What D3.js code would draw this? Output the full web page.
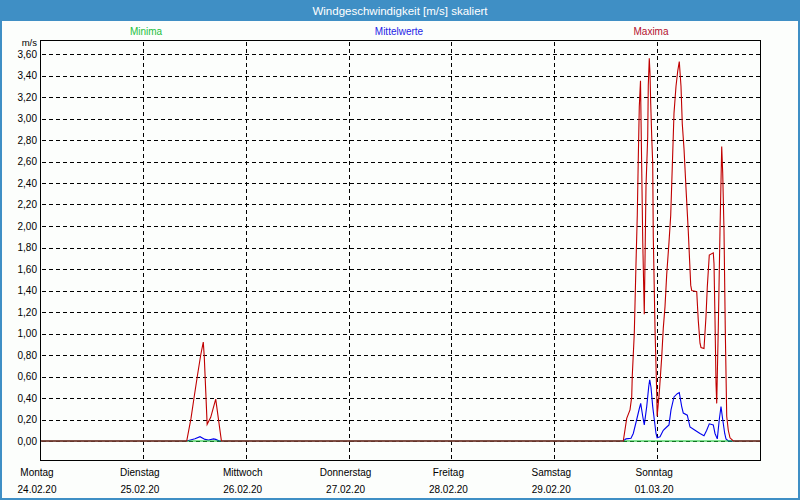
<!DOCTYPE html>
<html>
<head>
<meta charset="utf-8">
<script src="https://cdn.jsdelivr.net/npm/d3@7"></script>
<style>
html,body{margin:0;padding:0;background:#fcfefc;}
svg{display:block;font-family:"Liberation Sans",Arial,sans-serif;}
</style>
</head>
<body>
<svg id="chart" width="800" height="500"></svg>
<script>
// ---------- data ----------
const titleText = "Windgeschwindigkeit [m/s] skaliert";
const unitLabel = "m/s";
const seriesNames = ["Minima", "Mittelwerte", "Maxima"];
const dayNames = ["Montag", "Dienstag", "Mittwoch", "Donnerstag", "Freitag", "Samstag", "Sonntag"];
const dayDates = ["24.02.20", "25.02.20", "26.02.20", "27.02.20", "28.02.20", "29.02.20", "01.03.20"];
const dayStarts = ["2020-02-24 00:00","2020-02-25 00:00","2020-02-26 00:00","2020-02-27 00:00","2020-02-28 00:00","2020-02-29 00:00","2020-03-01 00:00"];
const weekRange = ["2020-02-24 00:00", "2020-03-02 00:00"];
const yTickValues = [0,0.2,0.4,0.6,0.8,1.0,1.2,1.4,1.6,1.8,2.0,2.2,2.4,2.6,2.8,3.0,3.2,3.4,3.6];

// Minima (all zero)
const minTimes = ["2020-02-24 00:00", "2020-03-02 00:00"];
const minValues = [0, 0];

// Mittelwerte
const meanTimes = [
  "2020-02-24 00:00",
  "2020-02-25 10:14","2020-02-25 12:10","2020-02-25 13:20","2020-02-25 14:30","2020-02-25 15:20",
  "2020-02-25 16:30","2020-02-25 17:00","2020-02-25 17:50",
  "2020-02-29 16:06","2020-02-29 16:44","2020-02-29 17:54","2020-02-29 18:26","2020-02-29 19:14",
  "2020-02-29 19:50","2020-02-29 20:10","2020-02-29 20:38","2020-02-29 21:00","2020-02-29 21:34",
  "2020-02-29 22:02","2020-02-29 22:16","2020-02-29 22:34","2020-02-29 22:58","2020-02-29 23:20",
  "2020-02-29 23:44","2020-03-01 00:00","2020-03-01 00:40","2020-03-01 01:26","2020-03-01 02:14",
  "2020-03-01 02:46","2020-03-01 03:14","2020-03-01 03:56","2020-03-01 04:42","2020-03-01 05:10",
  "2020-03-01 05:44","2020-03-01 06:06","2020-03-01 07:02","2020-03-01 07:40","2020-03-01 08:50",
  "2020-03-01 10:00","2020-03-01 10:56","2020-03-01 11:34","2020-03-01 12:10","2020-03-01 13:06",
  "2020-03-01 13:30","2020-03-01 14:02","2020-03-01 14:30","2020-03-01 14:54","2020-03-01 15:18",
  "2020-03-01 15:46","2020-03-01 16:04","2020-03-01 16:36",
  "2020-03-02 00:00"
];
const meanValues = [
  0,
  0,0.02,0.04,0.015,0.01,
  0.02,0.015,0,
  0,0.02,0.025,0.07,0.20,
  0.30,0.35,0.23,0.15,0.32,
  0.505,0.57,0.50,0.32,0.20,
  0.07,0.03,0.04,0.10,0.13,
  0.15,0.29,0.41,0.44,0.45,
  0.32,0.26,0.24,0.13,0.10,
  0.07,0.05,0.10,0.16,0.15,
  0.07,0.02,0.20,0.32,0.20,
  0.07,0.02,0,
  0
];

// Maxima
const maxTimes = [
  "2020-02-24 00:00",
  "2020-02-25 10:14","2020-02-25 11:14","2020-02-25 11:56","2020-02-25 12:42","2020-02-25 13:30",
  "2020-02-25 14:06","2020-02-25 14:20","2020-02-25 15:00","2020-02-25 15:50","2020-02-25 17:00",
  "2020-02-25 18:20",
  "2020-02-29 16:06","2020-02-29 16:54","2020-02-29 17:40","2020-02-29 18:04","2020-02-29 18:12",
  "2020-02-29 18:40","2020-02-29 19:04","2020-02-29 19:22","2020-02-29 19:36","2020-02-29 19:50",
  "2020-02-29 20:07","2020-02-29 20:24","2020-02-29 20:38","2020-02-29 21:00","2020-02-29 21:24",
  "2020-02-29 21:48","2020-02-29 21:56","2020-02-29 22:10","2020-02-29 22:20","2020-02-29 22:30",
  "2020-02-29 22:44","2020-02-29 22:58","2020-02-29 23:06","2020-02-29 23:30","2020-02-29 23:54",
  "2020-03-01 00:00","2020-03-01 00:30","2020-03-01 01:04","2020-03-01 01:26","2020-03-01 01:50",
  "2020-03-01 02:14","2020-03-01 02:46","2020-03-01 03:10","2020-03-01 03:32","2020-03-01 03:56",
  "2020-03-01 04:24","2020-03-01 04:48","2020-03-01 05:10","2020-03-01 05:34","2020-03-01 05:52",
  "2020-03-01 06:16","2020-03-01 06:44","2020-03-01 07:16","2020-03-01 07:50","2020-03-01 08:04",
  "2020-03-01 09:14","2020-03-01 09:36","2020-03-01 10:00","2020-03-01 10:14","2020-03-01 10:56",
  "2020-03-01 11:24","2020-03-01 11:42","2020-03-01 12:10","2020-03-01 13:06","2020-03-01 13:16",
  "2020-03-01 13:30","2020-03-01 13:44","2020-03-01 13:54","2020-03-01 14:16","2020-03-01 14:40",
  "2020-03-01 15:04","2020-03-01 15:18","2020-03-01 15:36","2020-03-01 15:54","2020-03-01 16:14",
  "2020-03-01 16:36","2020-03-01 17:00","2020-03-01 17:46",
  "2020-03-02 00:00"
];
const maxValues = [
  0,
  0,0.21,0.40,0.60,0.80,
  0.92,0.78,0.155,0.22,0.39,
  0,
  0,0.21,0.29,0.41,0.61,
  1.00,1.65,2.10,2.63,3.11,
  3.35,2.54,1.87,1.18,2.37,
  2.83,3.31,3.56,3.42,3.14,
  2.83,2.58,1.90,1.05,0.45,
  0.23,0.45,0.78,1.05,1.25,
  1.55,1.85,2.10,2.55,3.05,
  3.30,3.44,3.53,3.30,2.95,
  2.72,2.35,1.95,1.45,1.40,
  1.39,1.12,0.91,0.87,0.86,
  1.16,1.43,1.73,1.75,1.65,
  1.13,0.54,0.35,1.05,1.96,
  2.74,2.49,1.96,1.03,0.23,
  0.10,0.03,0,
  0
];

// ---------- drawing ----------
const W = 800, H = 500;
const parse = d3.timeParse("%Y-%m-%d %H:%M");
const fmt = d3.formatLocale({decimal: ",", thousands: ".", grouping: [3], currency: ["", " €"]}).format(".2f");

const svg = d3.select("#chart");
const plot = {left: 40, right: 760, top: 40, bottom: 460};

const x = d3.scaleTime().domain(weekRange.map(parse)).range([plot.left, plot.right]);
const y = d3.scaleLinear().domain([0, 3.6]).range([441, 54]);

// background + window frame
svg.append("rect").attr("x", 0).attr("y", 0).attr("width", W).attr("height", H).attr("fill", "#fcfefc");
svg.append("rect").attr("x", 1).attr("y", 1).attr("width", W - 2).attr("height", H - 2)
  .attr("fill", "none").attr("stroke", "#3f8fc5").attr("stroke-width", 2);
svg.append("rect").attr("x", 0).attr("y", 0).attr("width", W).attr("height", 21).attr("fill", "#3f8fc5");
svg.append("text").attr("x", W / 2).attr("y", 14.5).attr("text-anchor", "middle")
  .attr("fill", "#ffffff").attr("font-size", 11.5).text(titleText);

// legend
const legendColors = ["#22c040", "#2424e6", "#b3102e"];
const legendX = [146, 399, 651];
seriesNames.forEach((n, i) => {
  svg.append("text").attr("x", legendX[i]).attr("y", 34.5).attr("text-anchor", "middle")
    .attr("fill", legendColors[i]).attr("font-size", 10).text(n);
});

// grid
const grid = svg.append("g").attr("shape-rendering", "crispEdges");
grid.selectAll("line.h").data(yTickValues.filter(v => v > 0)).join("line")
  .attr("x1", plot.left + 2).attr("x2", plot.right)
  .attr("y1", d => Math.round(y(d)) + 0.5).attr("y2", d => Math.round(y(d)) + 0.5)
  .attr("stroke", "#000").attr("stroke-dasharray", "4,3");
grid.selectAll("line.v").data(dayStarts.slice(1).map(parse)).join("line")
  .attr("x1", d => Math.round(x(d)) + 0.5).attr("x2", d => Math.round(x(d)) + 0.5)
  .attr("y1", plot.top + 2).attr("y2", plot.bottom)
  .attr("stroke", "#000").attr("stroke-dasharray", "4,3");

// series
const line = d3.line().x(d => x(d.t)).y(d => y(d.v));
const mk = (ts, vs) => ts.map((t, i) => ({t: parse(t), v: vs[i]}));
const series = [
  {data: mk(meanTimes, meanValues), color: "#0000ee"},
  {data: mk(minTimes, minValues), color: "#00c020"},
  {data: mk(maxTimes, maxValues), color: "#c00000"}
];
svg.append("g").selectAll("path").data(series).join("path")
  .attr("d", d => line(d.data)).attr("fill", "none")
  .attr("stroke", d => d.color).attr("stroke-width", 1.1).attr("stroke-linejoin", "miter");

// zero line on top
grid.append("line").attr("x1", plot.left + 2).attr("x2", plot.right)
  .attr("y1", Math.round(y(0)) + 0.5).attr("y2", Math.round(y(0)) + 0.5)
  .attr("stroke", "#000").attr("stroke-dasharray", "4,3").attr("stroke-opacity", 0.85);

// frame
svg.append("rect").attr("x", plot.left + 0.5).attr("y", plot.top + 0.5)
  .attr("width", plot.right - plot.left).attr("height", plot.bottom - plot.top)
  .attr("fill", "none").attr("stroke", "#000").attr("stroke-width", 1).attr("shape-rendering", "crispEdges");

// y labels
const yAxis = d3.axisLeft(y).tickValues(yTickValues).tickFormat(fmt).tickSize(0).tickPadding(0);
const ya = svg.append("g").attr("transform", "translate(37,0)").call(yAxis);
ya.select(".domain").remove();
ya.selectAll("text").attr("font-size", 10).attr("font-family", "Liberation Sans, Arial, sans-serif").attr("fill", "#000");
svg.append("text").attr("x", 37).attr("y", 46).attr("text-anchor", "end").attr("font-size", 9.5).text(unitLabel);

// x labels
const xl = svg.append("g");
dayStarts.forEach((d, i) => {
  const px = x(parse(d)) - 3;
  xl.append("text").attr("x", px).attr("y", 476).attr("text-anchor", "middle").attr("font-size", 10).text(dayNames[i]);
  xl.append("text").attr("x", px).attr("y", 493).attr("text-anchor", "middle").attr("font-size", 10).text(dayDates[i]);
});
</script>
</body>
</html>
